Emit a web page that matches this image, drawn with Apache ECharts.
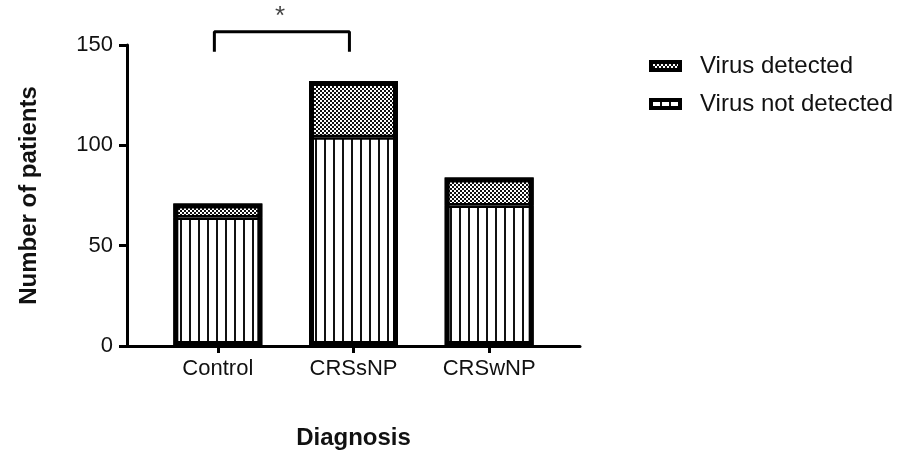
<!DOCTYPE html>
<html>
<head>
<meta charset="utf-8">
<script src="https://cdn.jsdelivr.net/npm/echarts@6/dist/echarts.min.js"></script>
<style>
  html, body { margin: 0; padding: 0; background: #fff; }
  #chart { width: 916px; height: 457px; }
</style>
</head>
<body>
<div id="chart"></div>
<script>
// categories and counts
const categories = ['Control', 'CRSsNP', 'CRSwNP']
const notDetected = [64, 104, 70]
const detected = [7, 28, 14]
const totals = notDetected.map((v, i) => v + detected[i])

// significance bracket between Control and CRSsNP (x in category units)
const bracketX = [-0.024, -0.024, 0.97, 0.97]
const bracketY = [146.6, 156.6, 156.6, 146.6]
const starPos = [0.46, 164]

const FONT = "'Liberation Sans', Arial, sans-serif"
const INK = '#111'

const makeStripes = () => {
  const c = document.createElement('canvas')
  c.width = 9
  c.height = 9
  const ctx = c.getContext('2d')
  ctx.fillStyle = '#fff'
  ctx.fillRect(0, 0, 9, 9)
  ctx.fillStyle = '#111'
  ctx.fillRect(0, 0, 2, 9)
  return c
}

const makeChecks = () => {
  const c = document.createElement('canvas')
  c.width = 4
  c.height = 4
  const ctx = c.getContext('2d')
  ctx.fillStyle = '#111'
  ctx.fillRect(0, 0, 4, 4)
  ctx.fillStyle = '#fff'
  ctx.fillRect(0, 0, 2, 2)
  ctx.fillRect(2, 2, 2, 2)
  return c
}

const chart = echarts.init(document.getElementById('chart'))

const axisLineStyle = { color: '#000', width: 3 }

const option = {
  animation: false,
  textStyle: { fontFamily: FONT },
  legend: {
    orient: 'vertical',
    left: 649,
    top: 54,
    padding: 0,
    itemWidth: 29,
    itemHeight: 8,
    itemGap: 14,
    icon: 'rect',
    itemStyle: { borderColor: '#000', borderWidth: 4 },
    textStyle: {
      color: INK,
      fontSize: 24,
      fontFamily: FONT,
      padding: [0, 0, 0, 15]
    },
    data: ['Virus detected', 'Virus not detected']
  },
  grid: [
    // frame grid: full axis lines, names, annotation
    { left: 127, right: 336, top: 45, bottom: 111, containLabel: false },
    // bar grid: categories inset from the axis ends
    { left: 150, right: 359, top: 45, bottom: 111, containLabel: false }
  ],
  xAxis: [
    {
      gridIndex: 0,
      type: 'value',
      min: -0.667,
      max: 2.667,
      name: 'Diagnosis',
      nameLocation: 'middle',
      nameGap: 80,
      nameMoveOverlap: false,
      nameTextStyle: { color: INK, fontSize: 24, fontWeight: 'bold', fontFamily: FONT },
      splitLine: { show: false },
      axisLine: { show: true, lineStyle: axisLineStyle },
      axisTick: { show: false },
      axisLabel: { show: false }
    },
    {
      gridIndex: 1,
      type: 'category',
      data: categories,
      axisLine: { show: false },
      axisTick: { show: true, alignWithLabel: true, length: 7, lineStyle: axisLineStyle },
      axisLabel: { color: INK, fontSize: 22, margin: 12 },
      splitLine: { show: false }
    }
  ],
  yAxis: [
    {
      gridIndex: 0,
      type: 'value',
      min: 0,
      max: 150,
      interval: 50,
      name: 'Number of patients',
      nameLocation: 'middle',
      nameGap: 86,
      nameMoveOverlap: false,
      nameTextStyle: { color: INK, fontSize: 24, fontWeight: 'bold', fontFamily: FONT },
      splitLine: { show: false },
      axisLine: { show: true, onZero: false, lineStyle: axisLineStyle },
      axisTick: { show: true, length: 8, lineStyle: axisLineStyle },
      axisLabel: { color: INK, fontSize: 22, margin: 14 }
    },
    {
      gridIndex: 1,
      type: 'value',
      min: 0,
      max: 150,
      show: false
    }
  ],
  series: [
    {
      name: 'Virus not detected',
      type: 'bar',
      xAxisIndex: 1,
      yAxisIndex: 1,
      stack: 'total',
      barWidth: 89,
      barGap: '-100%',
      data: notDetected,
      itemStyle: {
        color: { image: makeStripes(), repeat: 'repeat' },
        borderColor: '#000',
        borderWidth: 2.5
      }
    },
    {
      name: 'Virus detected',
      type: 'bar',
      xAxisIndex: 1,
      yAxisIndex: 1,
      stack: 'total',
      barWidth: 89,
      barGap: '-100%',
      data: detected,
      itemStyle: {
        color: { image: makeChecks(), repeat: 'repeat' },
        borderColor: '#000',
        borderWidth: 2.5
      }
    },
    {
      // outer frame of each stacked column
      name: 'outline',
      type: 'bar',
      xAxisIndex: 1,
      yAxisIndex: 1,
      barWidth: 89,
      barGap: '-100%',
      silent: true,
      data: totals,
      itemStyle: {
        color: 'rgba(0,0,0,0)',
        borderColor: '#000',
        borderWidth: 5
      },
      z: 3
    },
    {
      name: 'bracket',
      type: 'line',
      xAxisIndex: 0,
      yAxisIndex: 0,
      clip: false,
      silent: true,
      symbol: 'none',
      data: bracketX.map((x, i) => [x, bracketY[i]]),
      lineStyle: { color: '#000', width: 3 },
      z: 5
    },
    {
      name: 'star',
      type: 'scatter',
      xAxisIndex: 0,
      yAxisIndex: 0,
      clip: false,
      silent: true,
      symbolSize: 0,
      data: [starPos],
      label: {
        show: true,
        position: 'inside',
        formatter: '*',
        color: INK,
        fontSize: 26,
        fontFamily: FONT
      }
    }
  ]
}

chart.setOption(option)
</script>
</body>
</html>
